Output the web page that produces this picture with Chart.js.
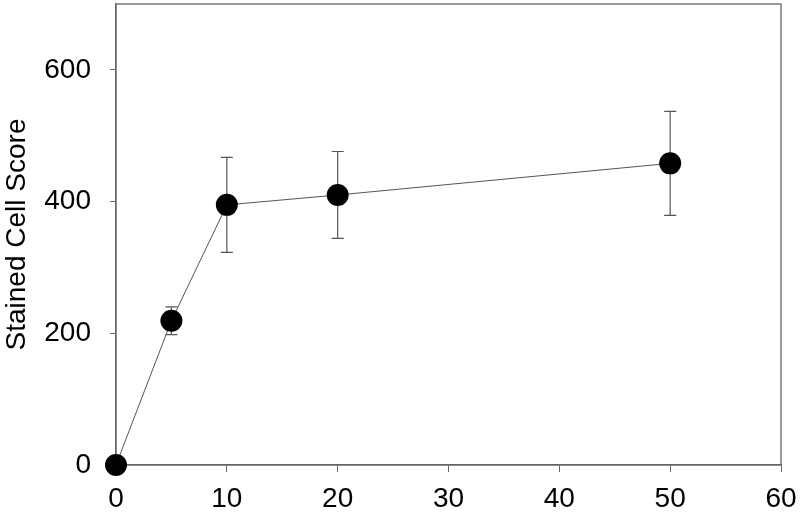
<!DOCTYPE html>
<html>
<head>
<meta charset="utf-8">
<script src="https://cdn.jsdelivr.net/npm/chart.js@4/dist/chart.umd.min.js"></script>
<style>
  html, body { margin: 0; padding: 0; background: #fff; }
  #wrap { width: 800px; height: 520px; }
</style>
</head>
<body>
<div id="wrap"><canvas id="c" width="800" height="520"></canvas></div>
<script>
// values
const xValues = [0, 5, 10, 20, 50];
const scores  = [0, 219, 395, 410, 458];
const errors  = [0, 21, 72, 66, 79];
const xTicks = [0, 10, 20, 30, 40, 50, 60];
const yTicks = [0, 200, 400, 600];

const font = { family: 'Liberation Sans, Arial', size: 28 };

// error bars + box frame
const errorBars = {
  id: 'errorBars',
  beforeDatasetsDraw(chart) {
    const ctx = chart.ctx, x = chart.scales.x, y = chart.scales.y;
    ctx.save();
    ctx.strokeStyle = '#555';
    ctx.lineWidth = 1.2;
    xValues.forEach((xv, i) => {
      if (!errors[i]) return;
      const px = x.getPixelForValue(xv);
      const top = y.getPixelForValue(scores[i] + errors[i]);
      const bot = y.getPixelForValue(scores[i] - errors[i]);
      ctx.beginPath();
      ctx.moveTo(px, top); ctx.lineTo(px, bot);
      ctx.moveTo(px - 6, top); ctx.lineTo(px + 6, top);
      ctx.moveTo(px - 6, bot); ctx.lineTo(px + 6, bot);
      ctx.stroke();
    });
    const a = chart.chartArea;
    ctx.strokeStyle = '#666';
    ctx.lineWidth = 1.3;
    ctx.strokeRect(a.left, a.top, a.right - a.left, a.bottom - a.top);
    ctx.restore();
  }
};

new Chart(document.getElementById('c').getContext('2d'), {
  type: 'scatter',
  data: {
    datasets: [{
      data: xValues.map((v, i) => ({ x: v, y: scores[i] })),
      showLine: true,
      borderColor: '#555',
      borderWidth: 1,
      pointRadius: 11,
      pointBackgroundColor: '#000',
      pointBorderColor: '#000',
      pointBorderWidth: 0,
      clip: false
    }]
  },
  options: {
    responsive: false,
    animation: false,
    layout: { autoPadding: false, padding: { top: 4, right: 19, left: 0, bottom: 0 } },
    plugins: { legend: { display: false }, tooltip: { enabled: false } },
    scales: {
      x: {
        type: 'linear', min: 0, max: 60,
        afterBuildTicks: s => { s.ticks = xTicks.map(v => ({ value: v })); },
        afterFit: s => { s.height = 55; s.paddingLeft = 0; s.paddingRight = 0; },
        grid: { drawOnChartArea: false, drawTicks: true, tickLength: 7, color: '#666' },
        border: { display: true, color: '#666', width: 1.3 },
        ticks: { color: '#000', padding: 10, maxRotation: 0, font }
      },
      y: {
        type: 'linear', min: 0, max: 700,
        afterBuildTicks: s => { s.ticks = yTicks.map(v => ({ value: v })); },
        afterFit: s => { s.width = 116; s.paddingTop = 0; s.paddingBottom = 0; },
        grid: { drawOnChartArea: false, drawTicks: true, tickLength: 6, color: '#666' },
        border: { display: true, color: '#666', width: 1.3 },
        ticks: { color: '#000', padding: 19, font },
        title: { display: true, text: 'Stained Cell Score', color: '#000', padding: 0, font }
      }
    }
  },
  plugins: [errorBars]
});
</script>
</body>
</html>
